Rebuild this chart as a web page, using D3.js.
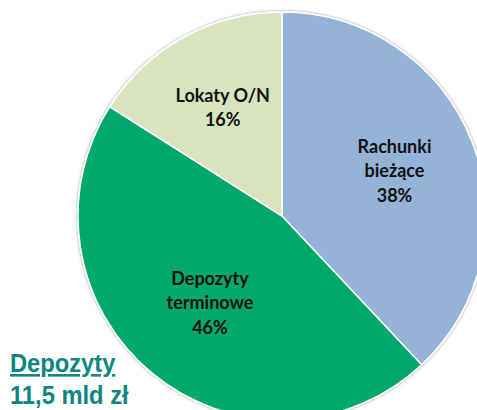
<!DOCTYPE html>
<html>
<head>
<meta charset="utf-8">
<script src="https://cdn.jsdelivr.net/npm/d3@7"></script>
<style>
  body { margin: 0; background: #fff; }
  svg { display: block; }
</style>
</head>
<body>
<svg id="chart" width="477" height="410"></svg>
<script>
// slice data, clockwise from 12 o'clock
const categories = ['Rachunki bieżące', 'Depozyty terminowe', 'Lokaty O/N'];
const labelLines = [['Rachunki', 'bieżące'], ['Depozyty', 'terminowe'], ['Lokaty O/N']];
const shares = [38, 46, 16];
const colours = ['#95B3D7', '#00A86B', '#D7E4BD'];
const titleLines = ['Depozyty', '11,5 mld zł'];

const svg = d3.select('#chart');
const cx = 282, cy = 216, radius = 204;
// label distance from centre, per slice (best-fit placement)
const labelRadius = [121, 113, 123];

const data = categories.map((c, i) => ({ name: c, lines: labelLines[i], value: shares[i], lr: labelRadius[i] }));

const pie = d3.pie().value(d => d.value).sort(null);
const arc = d3.arc().innerRadius(0).outerRadius(radius);

const colour = d3.scaleOrdinal().domain(categories).range(colours);

// soft grey edge round the pie
const defs = svg.append('defs');
const f = defs.append('filter').attr('id', 'shadow').attr('x', '-10%').attr('y', '-10%').attr('width', '120%').attr('height', '120%');
f.append('feGaussianBlur').attr('in', 'SourceAlpha').attr('stdDeviation', 1.5);
f.append('feComponentTransfer').append('feFuncA').attr('type', 'linear').attr('slope', 0.45);
const merge = f.append('feMerge');
merge.append('feMergeNode');
merge.append('feMergeNode').attr('in', 'SourceGraphic');

const g = svg.append('g').attr('transform', `translate(${cx},${cy})`);

const arcs = pie(data);

g.append('g').attr('filter', 'url(#shadow)')
  .selectAll('path')
  .data(arcs)
  .enter().append('path')
  .attr('d', arc)
  .attr('fill', d => colour(d.data.name))
  .attr('stroke', '#fff')
  .attr('stroke-width', 1.5);

const lineH = 24.5;
g.selectAll('.lbl')
  .data(arcs)
  .enter().append('text')
  .attr('class', 'lbl')
  .attr('transform', d => {
    const la = d3.arc().innerRadius(d.data.lr).outerRadius(d.data.lr);
    return `translate(${la.centroid(d)})`;
  })
  .attr('text-anchor', 'middle')
  .style('font-family', 'Lato, "Open Sans", sans-serif')
  .style('font-weight', 'bold')
  .style('font-size', '18px')
  .attr('fill', '#111')
  .each(function (d) {
    const lines = d.data.lines.concat([d.data.value + '%']);
    const t = d3.select(this);
    const start = -(lines.length - 1) / 2 * lineH + 6;
    lines.forEach((l, i) => {
      t.append('tspan').attr('x', 0).attr('y', start + i * lineH).text(l);
    });
  });

// title bottom-left
const title = svg.append('g')
  .attr('transform', 'translate(10,0) scale(0.93,1)')
  .style('font-family', '"Liberation Sans", Arial, sans-serif')
  .style('font-weight', 'bold')
  .style('font-size', '25.5px')
  .attr('fill', '#0E8580');

title.append('text').attr('x', 0).attr('y', 372).attr('text-decoration', 'underline').text(titleLines[0]);
title.append('text').attr('x', 0).attr('y', 404).text(titleLines[1]);
</script>
</body>
</html>
